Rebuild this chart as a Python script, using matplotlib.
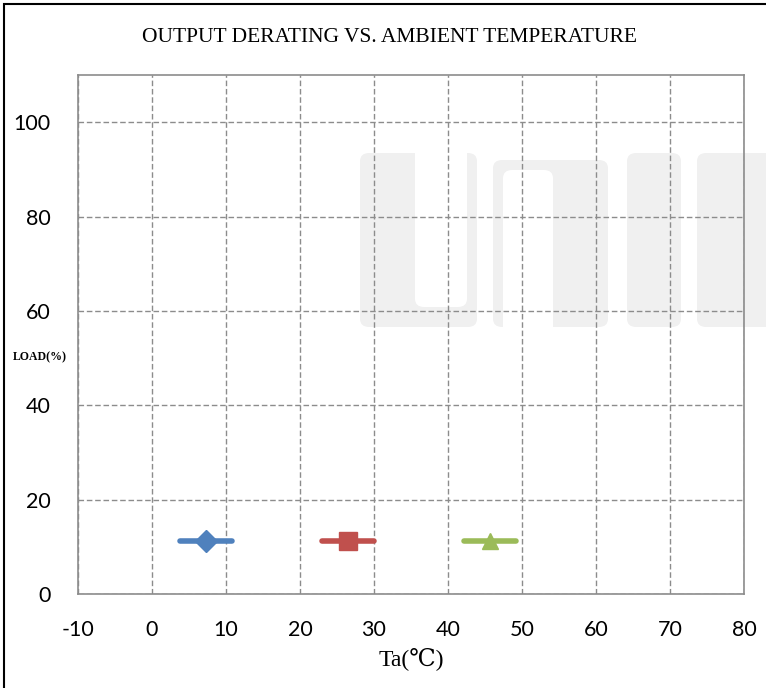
import matplotlib.pyplot as plt
from matplotlib.lines import Line2D
from matplotlib.patches import FancyBboxPatch, Rectangle

plt.rcParams["axes.unicode_minus"] = False

# chart data
title = "OUTPUT DERATING VS. AMBIENT TEMPERATURE"
x_ticks = [-10, 0, 10, 20, 30, 40, 50, 60, 70, 80]
y_ticks = [0, 20, 40, 60, 80, 100]
series_names = ["Series1", "Series2", "Series3"]
series_colors = ["#4f81bd", "#c0504d", "#9bbb59"]
series_markers = ["D", "s", "^"]
# the series carry no points, only the legend keys are drawn
series_x: list[list[float]] = [[], [], []]
series_y: list[list[float]] = [[], [], []]

W, H = 766, 688
fig = plt.figure(figsize=(W / 100, H / 100), dpi=100)


def px(x, y):
    return x / W, 1 - y / H


# outer frame of the picture
fig.add_artist(Rectangle(px(4, 700), 780 / W, 696 / H, transform=fig.transFigure,
                         fill=False, edgecolor="black", linewidth=1.5))

# faint watermark behind the plot
wm = "#f0f0f0"
shapes = [(360, 153, 117, 174, wm), (415, 140, 52, 167, "white"),
          (493, 160, 115, 167, wm), (503, 170, 50, 170, "white"),
          (627, 153, 54, 174, wm), (697, 153, 80, 174, wm)]
for x0, y0, w, h, c in shapes:
    x, y = px(x0, y0 + h)
    fig.add_artist(FancyBboxPatch((x, y), w / W, h / H, transform=fig.transFigure,
                                  boxstyle="round,pad=0,rounding_size=0.012",
                                  facecolor=c, edgecolor="none", zorder=0))

left, right, top, bottom = 78, 744, 75, 594
ax = fig.add_axes([left / W, 1 - bottom / H, (right - left) / W, (bottom - top) / H])
ax.patch.set_alpha(0)

for xs, ys, c, m, name in zip(series_x, series_y, series_colors, series_markers, series_names):
    ax.plot(xs, ys, color=c, marker=m, linewidth=3, label=name)

ax.set_xlim(-10, 80)
ax.set_ylim(0, 110)
ax.set_xticks(x_ticks)
ax.set_yticks(y_ticks)
ax.tick_params(length=0, labelsize=15.5)
ax.tick_params(axis="x", pad=19)
ax.tick_params(axis="y", pad=19.5)
for lab in ax.get_xticklabels() + ax.get_yticklabels():
    lab.set_family(["Lato", "DejaVu Sans"])

ax.grid(True, color="#8c8c8c", linestyle=(0, (4, 2)), linewidth=1)
for s in ax.spines.values():
    s.set_color("#8c8c8c")
    s.set_linewidth(1.2)

ax.set_xlabel("Ta(℃)", fontsize=17, family=["Liberation Serif", "DejaVu Serif"], labelpad=5)
fig.text(40 / W, 1 - 357 / H, "LOAD(%)", fontsize=8.5, fontweight="bold",
         family=["Liberation Serif", "DejaVu Serif"], ha="center", va="center")
fig.text(389 / W, 1 - 37 / H, title, fontsize=15.5, family=["Liberation Serif", "DejaVu Serif"],
         ha="center", va="center")

# legend keys with empty labels, like the original sheet
handles = []
for c, m, size in zip(series_colors, series_markers, [11, 13, 12]):
    handles.append(Line2D([], [], color=c, marker=m, markersize=size, linewidth=4,
                          solid_capstyle="round"))
fs = 10
ax.legend(handles, ["", "", ""], ncol=3, frameon=False, fontsize=fs,
          handlelength=52 / (fs * 100 / 72), handletextpad=0,
          columnspacing=90 / (fs * 100 / 72), numpoints=1,
          loc="center", bbox_to_anchor=((348 - left) / (right - left), (bottom - 542) / (bottom - top)))

fig.savefig("out.png", dpi=100)
